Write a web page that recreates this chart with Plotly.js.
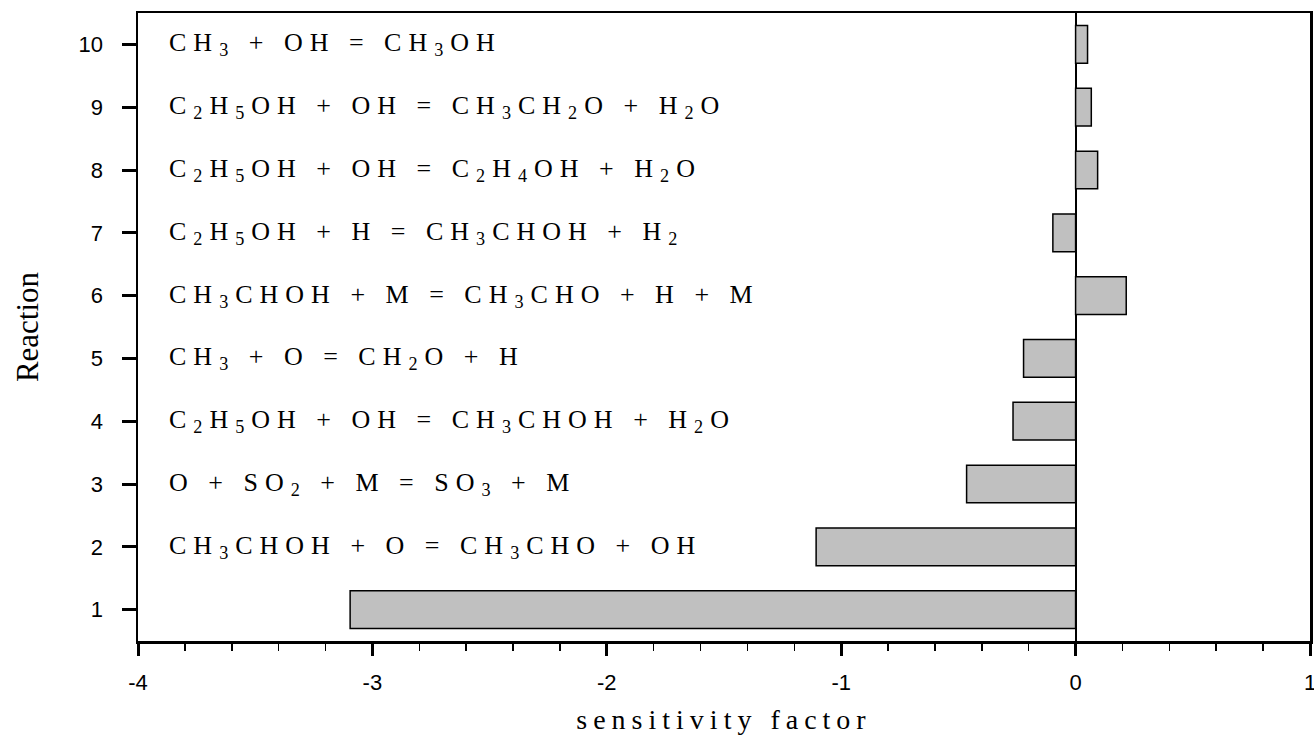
<!DOCTYPE html>
<html>
<head>
<meta charset="utf-8">
<script src="https://cdn.plot.ly/plotly-3.0.1.min.js"></script>
<style>
  body { margin: 0; background: white; }
  #chart { width: 1314px; height: 752px; }
  .annotation-text { letter-spacing: 7px; }
  .xtitle { letter-spacing: 6px; }
</style>
</head>
<body>
<div id="chart"></div>
<script>
// reaction numbers and their sensitivity factors
const reactions = [1, 2, 3, 4, 5, 6, 7, 8, 9, 10]
const sensitivity = [-3.095, -1.107, -0.465, -0.267, -0.222, 0.216, -0.097, 0.094, 0.067, 0.051]
const x_ticks = [-4, -3, -2, -1, 0, 1]
const x_tick_labels = ['-4', '-3', '-2', '-1', '0', '1']
const reaction_labels = [
  '',
  'CH<sub>3</sub>CHOH + O = CH<sub>3</sub>CHO + OH',
  'O + SO<sub>2</sub> + M = SO<sub>3</sub> + M',
  'C<sub>2</sub>H<sub>5</sub>OH + OH = CH<sub>3</sub>CHOH + H<sub>2</sub>O',
  'CH<sub>3</sub> + O = CH<sub>2</sub>O + H',
  'CH<sub>3</sub>CHOH + M = CH<sub>3</sub>CHO + H + M',
  'C<sub>2</sub>H<sub>5</sub>OH + H = CH<sub>3</sub>CHOH + H<sub>2</sub>',
  'C<sub>2</sub>H<sub>5</sub>OH + OH = C<sub>2</sub>H<sub>4</sub>OH + H<sub>2</sub>O',
  'C<sub>2</sub>H<sub>5</sub>OH + OH = CH<sub>3</sub>CH<sub>2</sub>O + H<sub>2</sub>O',
  'CH<sub>3</sub> + OH = CH<sub>3</sub>OH'
]

const serif = 'Liberation Serif, Times New Roman, serif'
const sans = 'Liberation Sans, Arial, sans-serif'

var trace = {
  x: sensitivity,
  y: reactions,
  type: 'bar',
  orientation: 'h',
  width: 0.6,
  marker: {
    color: '#c0c0c0',
    line: {color: 'black', width: 1.5}
  },
  hoverinfo: 'none'
}

var annotations = []
for (let i = 0; i < reactions.length; i++) {
  if (!reaction_labels[i]) continue
  annotations.push({
    xref: 'paper', yref: 'y',
    x: 0.025, y: reactions[i],
    xanchor: 'left', yanchor: 'middle',
    text: reaction_labels[i],
    showarrow: false,
    font: {family: serif, size: 26, color: 'black'}
  })
}

var layout = {
  width: 1314,
  height: 752,
  margin: {l: 138, r: 4, t: 13, b: 111, pad: 0},
  paper_bgcolor: 'white',
  plot_bgcolor: 'white',
  showlegend: false,
  xaxis: {
    range: [-4, 1],
    tickvals: x_ticks,
    ticktext: x_tick_labels,
    ticks: 'outside',
    ticklen: 12,
    tickwidth: 3,
    tickcolor: 'black',
    ticklabelstandoff: 8,
    ticklabeloverflow: 'allow',
    minor: {dtick: 0.2, ticks: 'outside', ticklen: 7, tickwidth: 1.5, tickcolor: 'black'},
    showgrid: false,
    zeroline: true,
    zerolinecolor: 'black',
    zerolinewidth: 2,
    showline: true,
    mirror: true,
    linecolor: 'black',
    linewidth: 2.5,
    tickfont: {family: sans, size: 22, color: 'black'},
    title: {text: 'sensitivity factor', font: {family: serif, size: 28, color: 'black'}, standoff: 16}
  },
  yaxis: {
    range: [0.5, 10.5],
    tickvals: reactions,
    ticks: 'outside',
    ticklen: 14,
    tickwidth: 3,
    tickcolor: 'black',
    ticklabelstandoff: 14,
    showgrid: false,
    zeroline: false,
    showline: true,
    mirror: true,
    linecolor: 'black',
    linewidth: 2.5,
    tickfont: {family: sans, size: 22, color: 'black'},
    title: {text: 'Reaction', font: {family: serif, size: 31, color: 'black'}, standoff: 31}
  },
  annotations: annotations
}

Plotly.newPlot('chart', [trace], layout, {displayModeBar: false, staticPlot: true})
</script>
</body>
</html>
